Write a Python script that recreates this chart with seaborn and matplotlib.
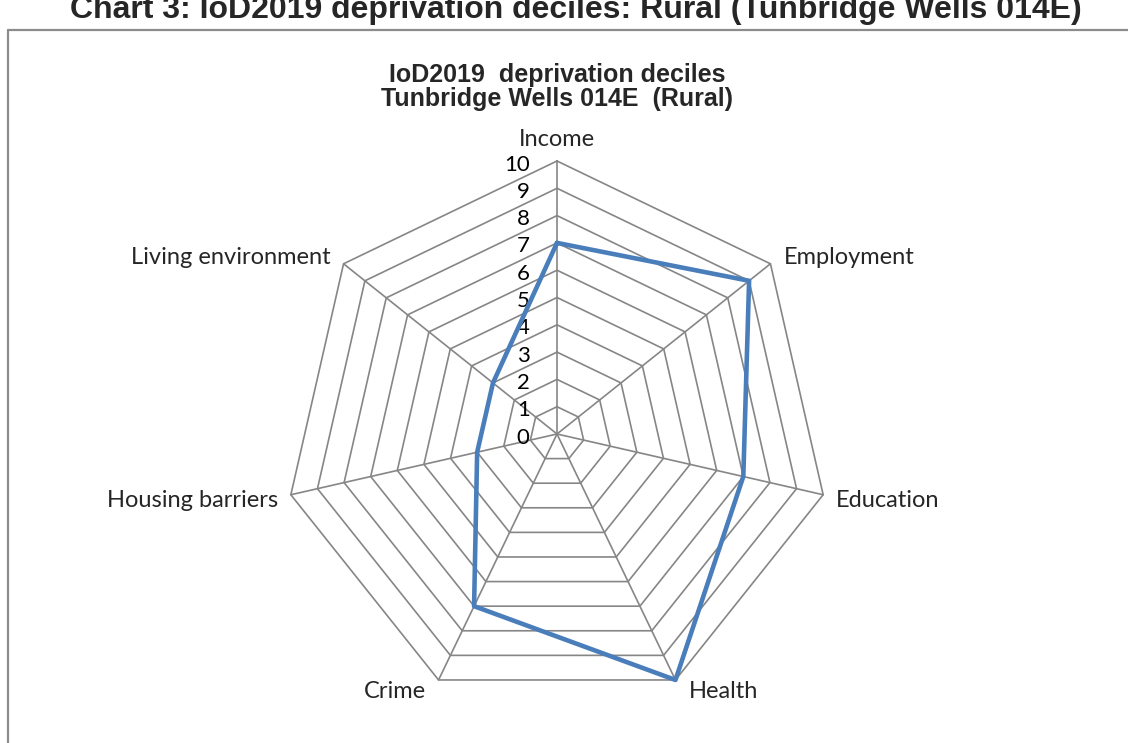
import numpy as np
import pandas as pd
import matplotlib
matplotlib.use('Agg')
import matplotlib.pyplot as plt
import seaborn as sns

# data
categories = ['Income', 'Employment', 'Education', 'Health', 'Crime',
              'Housing barriers', 'Living environment']
deciles = [7, 9, 7, 10, 7, 3, 3]
rings = list(range(0, 11))
main_title = 'Chart 3: IoD2019 deprivation deciles: Rural (Tunbridge Wells 014E)'
chart_title = 'IoD2019  deprivation deciles\nTunbridge Wells 014E  (Rural)'

sns.set_theme(style='white')
plt.rcParams['font.family'] = ['Lato', 'DejaVu Sans']

W, H = 1128, 743
fig = plt.figure(figsize=(W / 100, H / 100), dpi=100)
ax = fig.add_axes([0, 0, 1, 1])
cx, cy, unit = 557, 434, 27.3   # centre in px, px per decile
ax.set_xlim(-cx / unit, (W - cx) / unit)
ax.set_ylim(-(H - cy) / unit, cy / unit)
ax.axis('off')

n = len(categories)
ang = np.pi / 2 - 2 * np.pi * np.arange(n) / n
ux, uy = np.cos(ang), np.sin(ang)

# polygon grid + spokes
grid_col = '#868686'
for r in rings[1:]:
    ax.plot(np.append(ux, ux[0]) * r, np.append(uy, uy[0]) * r,
            color=grid_col, lw=1.2, zorder=1)
for i in range(n):
    ax.plot([0, ux[i] * 10], [0, uy[i] * 10], color=grid_col, lw=1.2, zorder=1)

# radial tick labels
for r in rings:
    ax.text(-1.0, r - 0.13, str(r), ha='right', va='center',
            fontsize=16, color='black')

# category labels
px = 1 / unit
for i, lab in enumerate(categories):
    vx, vy = ux[i] * 10, uy[i] * 10
    if i == 0:
        ax.text(vx, vy + 21 * px, lab, ha='center', va='center', fontsize=17)
        continue
    s = 1 if ux[i] > 0 else -1
    if uy[i] > 0.3:
        dy = 6
    elif uy[i] > -0.5:
        dy = -6
    else:
        dy = -12
    ax.text(vx + s * 13 * px, vy + dy * px, lab,
            ha='left' if s > 0 else 'right', va='center', fontsize=17)

# data polygon
df = pd.DataFrame({
    'x': np.append(ux * deciles, ux[0] * deciles[0]),
    'y': np.append(uy * deciles, uy[0] * deciles[0]),
})
sns.lineplot(data=df, x='x', y='y', sort=False, estimator=None,
             color='#4A7EBB', lw=3.3, ax=ax, zorder=3)
ax.set_xlabel('')
ax.set_ylabel('')

# chart frame (runs off the right and bottom edges)
fig.add_artist(plt.Line2D([8 / W, 8 / W], [0, 1 - 30 / H], color='#8c8c8c', lw=1.6))
fig.add_artist(plt.Line2D([8 / W, 1], [1 - 30 / H, 1 - 30 / H], color='#8c8c8c', lw=1.6))

fig.text(576 / W, 1 - 18 / H, main_title, ha='center', va='baseline',
         fontsize=23, fontweight='bold',
         family=['Liberation Sans', 'DejaVu Sans'])
fig.text(557 / W, 1 - 87 / H, chart_title, ha='center', va='center',
         fontsize=18, fontweight='bold', linespacing=1.05,
         family=['Liberation Sans', 'DejaVu Sans'])

fig.savefig('out.png', dpi=100)
